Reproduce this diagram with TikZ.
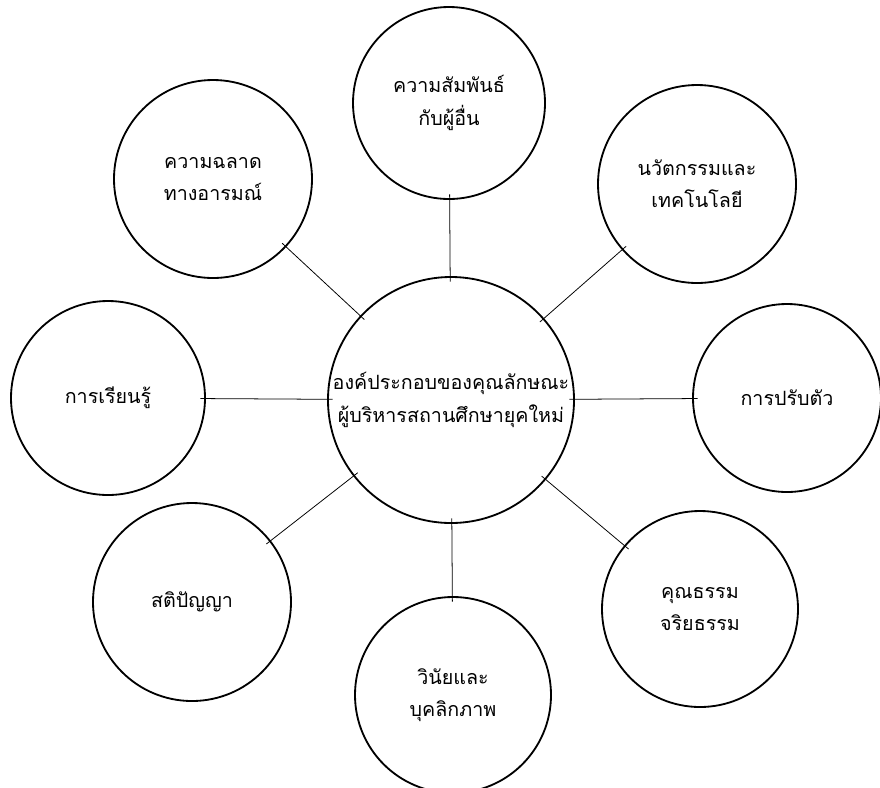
\documentclass[tikz,border=0pt]{standalone}
\usepackage{fontspec}
\newfontfamily\thaifont[Script=Thai]{Loma}
\tikzset{>=latex}
\tikzset{
  topic/.style={circle, draw, line width=1.3pt, align=center, inner sep=0pt,
    font=\thaifont\fontsize{14}{23}\selectfont},
  link/.style={line width=0.55pt, shorten <=-4pt, shorten >=-4pt}
}

\begin{document}
\begin{tikzpicture}
  \useasboundingbox (0,0) rectangle (22,-19.675);

  % centre
  \node[topic, minimum size=6.15cm] (core) at (11.275, -10.0) {องค์ประกอบของคุณลักษณะ\\ผู้บริหารสถานศึกษายุคใหม่};

  % ring
  \node[topic, minimum size=4.8cm] (rel) at (11.225, -2.575) {ความสัมพันธ์\\กับผู้อื่น};
  \node[topic, minimum size=4.95cm] (emo) at (5.325, -4.475) {ความฉลาด\\ทางอารมณ์};
  \node[topic, minimum size=4.95cm] (inno) at (17.425, -4.6) {นวัตกรรมและ\\เทคโนโลยี};
  \node[topic, minimum size=4.7cm] (adapt) at (19.675, -9.95) {การปรับตัว};
  \node[topic, minimum size=4.9cm] (moral) at (17.5, -15.225) {คุณธรรม\\จริยธรรม};
  \node[topic, minimum size=4.9cm] (disc) at (11.325, -17.375) {วินัยและ\\บุคลิกภาพ};
  \node[topic, minimum size=4.95cm] (wis) at (4.8, -15.05) {สติปัญญา};
  \node[topic, minimum size=4.85cm] (learn) at (2.7, -9.95) {การเรียนรู้};

  \foreach \n in {rel, emo, inno, adapt, moral, disc, wis, learn} {
    \draw[link] (core) -- (\n);
  }
\end{tikzpicture}
\end{document}
